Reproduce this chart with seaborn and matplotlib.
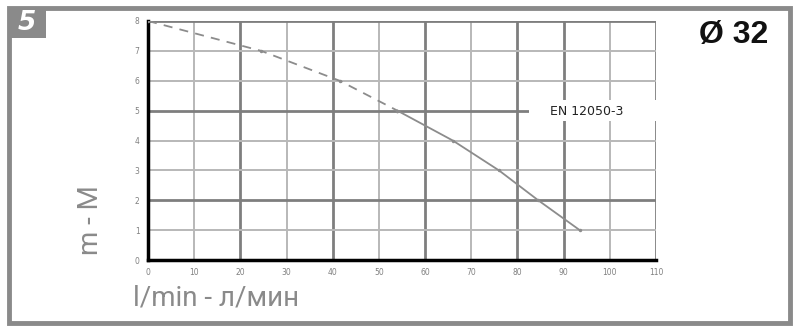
import matplotlib
matplotlib.use("Agg")
import matplotlib.pyplot as plt
from matplotlib.patches import Rectangle
import seaborn as sns
import pandas as pd

# Data
flow_dash = [0, 24.5, 41.5, 54]
head_dash = [8, 7, 6, 5]
flow_solid = [54, 66, 76, 84.5, 93.5]
head_solid = [5, 4, 3, 2, 1]
x_ticks = [0, 10, 20, 30, 40, 50, 60, 70, 80, 90, 100, 110]
y_ticks = [0, 1, 2, 3, 4, 5, 6, 7, 8]
y_tick_labels = ["0", "1", "2", "3", "4", "5", "6", "7", "8"]
x_label = "l/min - л/мин"
y_label = "m - M"
curve_label = "EN 12050-3"
size_label = "Ø 32"
panel_no = "5"

sns.set_style("white")
plt.rcParams['font.family'] = ['DejaVu Sans']

fig = plt.figure(figsize=(8, 3.33), dpi=100)
ax = fig.add_axes([0.185, 0.219, 0.635, 0.718])

major_x = {20, 40, 60, 80, 90, 110}
major_y = {2, 5, 8}
for xv in x_ticks[1:]:
    major = xv in major_x
    ax.axvline(xv, color="#7e7e7e" if major else "#b8b8b8",
               lw=2.0 if major else 1.4, zorder=0)
for yv in y_ticks[1:]:
    major = yv in major_y
    ax.axhline(yv, color="#7e7e7e" if major else "#b8b8b8",
               lw=2.0 if major else 1.4, zorder=0)

gray = "#8c8c8c"
df_d = pd.DataFrame({"flow": flow_dash, "head": head_dash})
df_s = pd.DataFrame({"flow": flow_solid, "head": head_solid})
sns.lineplot(data=df_d, x="flow", y="head", ax=ax, color=gray, lw=1.3,
             linestyle=(0, (5, 4)), marker="o", markersize=2.5, markeredgewidth=0,
             sort=False, zorder=3)
sns.lineplot(data=df_s, x="flow", y="head", ax=ax, color=gray, lw=1.3,
             marker="o", markersize=2.5, markeredgewidth=0, sort=False, zorder=3)

ax.set_xlim(0, 110)
ax.set_ylim(0, 8)
ax.set_xticks(x_ticks)
ax.set_yticks(y_ticks)
ax.set_xticklabels([str(v) for v in x_ticks], fontsize=5.5, color="#808080")
ax.set_yticklabels(y_tick_labels, fontsize=5.5, color="#808080")
ax.tick_params(length=0, pad=6)
ax.set_xlabel("")
ax.set_ylabel("")
for s in ["top", "right"]:
    ax.spines[s].set_visible(False)
ax.spines["left"].set_color("black")
ax.spines["left"].set_linewidth(2.5)
ax.spines["bottom"].set_color("black")
ax.spines["bottom"].set_linewidth(2.5)

# label on the curve, on a white patch that hides the grid behind it
ax.add_patch(Rectangle((82.5, 4.64), 29, 0.72, facecolor="white", edgecolor="none",
                       zorder=4, clip_on=False))
ax.text(95, 4.97, curve_label, fontsize=9, color="#222222", ha="center", va="center",
        zorder=5)

# outer frame
fig.patches.append(Rectangle((0.011, 0.03), 0.977, 0.947, transform=fig.transFigure,
                             fill=False, edgecolor="#8a8a8a", lw=3.5))
fig.patches.append(Rectangle((0.011, 0.886), 0.046, 0.091, transform=fig.transFigure,
                             facecolor="#8a8a8a", edgecolor="none"))
fig.text(0.034, 0.930, panel_no, fontsize=19, fontweight="bold", fontstyle="italic",
         color="white", ha="center", va="center")
fig.text(0.9175, 0.895, size_label, fontsize=23, fontweight="bold", color="#111111",
         ha="center", va="center", family="Liberation Sans")
fig.text(0.113, 0.34, y_label, fontsize=20, color="#8a8a8a", rotation=90,
         ha="center", va="center", family="Roboto")
fig.text(0.166, 0.105, x_label, fontsize=20, color="#8a8a8a",
         ha="left", va="center", family="Roboto")

fig.savefig("out.png", dpi=100)
